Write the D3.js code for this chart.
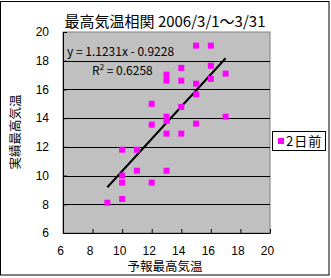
<!DOCTYPE html>
<html>
<head>
<meta charset="utf-8">
<script src="https://cdn.jsdelivr.net/npm/d3@7"></script>
<style>
  body { margin: 0; background: #fff; }
  svg text { font-family: "Noto Sans CJK JP", "DejaVu Sans", sans-serif; fill: #000; }
  svg .tick text { font-family: "Liberation Sans", "DejaVu Sans", sans-serif; }
</style>
</head>
<body>
<svg id="chart" width="331" height="278"></svg>
<script>
// forecast max temp (x) vs actual max temp (y), 2 days ahead
const forecast = [15, 16, 16, 14, 13, 13, 14, 15, 16, 17, 15, 12, 14, 13, 13, 17, 12, 15, 13, 14, 10, 11, 11, 13, 10, 10, 12, 10, 9];
const actual   = [19.05, 19.05, 17.65, 17.5, 17.03, 16.62, 16.61, 16.4, 16.73, 17.1, 15.66, 15.0, 14.78, 14.1, 13.8, 14.1, 13.55, 13.62, 12.92, 12.92, 11.8, 11.8, 10.34, 10.34, 10.0, 9.51, 9.51, 8.37, 8.11];
const xTicks = [6, 8, 10, 12, 14, 16, 18, 20];
const yTicks = [6, 8, 10, 12, 14, 16, 18, 20];
const slope = 1.1231, intercept = -0.9228, r2 = "0.6258";
const trendRange = [9, 17];

const points = forecast.map((f, i) => ({ x: f, y: actual[i] }));

const svg = d3.select("#chart");
const plot = { left: 63, top: 32, right: 270, bottom: 233 };

const x = d3.scaleLinear().domain([6, 20]).range([plot.left, plot.right]);
const y = d3.scaleLinear().domain([6, 20]).range([plot.bottom, plot.top]);

// outer chart border
svg.append("rect")
    .attr("x", 0.5).attr("y", 1.5)
    .attr("width", 328.5).attr("height", 273.5)
    .attr("fill", "#fff").attr("stroke", "#000");

// plot area
svg.append("rect")
    .attr("x", plot.left).attr("y", plot.top)
    .attr("width", plot.right - plot.left).attr("height", plot.bottom - plot.top)
    .attr("fill", "#c0c0c0").attr("stroke", "#808080");

// gridlines
svg.append("g").selectAll("line")
    .data(yTicks.slice(1, -1))
    .enter().append("line")
    .attr("x1", plot.left).attr("x2", plot.right)
    .attr("y1", d => Math.round(y(d)) + 0.5).attr("y2", d => Math.round(y(d)) + 0.5)
    .attr("stroke", "#000");

// axes
const xAxis = svg.append("g")
    .attr("transform", `translate(0,${plot.bottom})`)
    .call(d3.axisBottom(x).tickValues(xTicks).tickSizeInner(-4).tickSizeOuter(0).tickPadding(13));
xAxis.select(".domain").attr("stroke", "#000");
xAxis.selectAll("text").style("font-size", "12px").attr("dx", "-3");

const yAxis = svg.append("g")
    .attr("transform", `translate(${plot.left},0)`)
    .call(d3.axisLeft(y).tickValues(yTicks).tickSizeInner(-4).tickSizeOuter(0).tickPadding(14));
yAxis.select(".domain").attr("stroke", "#000");
yAxis.selectAll("text").style("font-size", "12px");

// trendline
svg.append("line")
    .attr("x1", x(trendRange[0])).attr("y1", y(slope * trendRange[0] + intercept))
    .attr("x2", x(trendRange[1])).attr("y2", y(slope * trendRange[1] + intercept))
    .attr("stroke", "#000").attr("stroke-width", 2);

// points
svg.append("g").selectAll("rect")
    .data(points)
    .enter().append("rect")
    .attr("x", d => x(d.x) - 3).attr("y", d => y(d.y) - 3)
    .attr("width", 6).attr("height", 6)
    .attr("fill", "#ff00ff");

// equation labels
svg.append("text")
    .attr("x", 67).attr("y", 56)
    .style("font-size", "12px")
    .text(`y = ${slope}x - ${Math.abs(intercept)}`);
const rt = svg.append("text")
    .attr("x", 92).attr("y", 75)
    .style("font-size", "12px");
rt.append("tspan").text("R");
rt.append("tspan").attr("dy", -5).style("font-size", "8px").text("2");
rt.append("tspan").attr("dy", 5).text(` = ${r2}`);

// title
svg.append("text")
    .attr("x", 165).attr("y", 27)
    .attr("text-anchor", "middle")
    .style("font-size", "15px")
    .text("最高気温相関 2006/3/1～3/31");

// axis titles
svg.append("text")
    .attr("x", 165).attr("y", 271)
    .attr("text-anchor", "middle")
    .style("font-size", "12.5px")
    .text("予報最高気温");
svg.append("text")
    .attr("transform", "translate(20,132) rotate(-90)")
    .attr("text-anchor", "middle")
    .style("font-size", "12.5px")
    .text("実績最高気温");

// legend
const lg = svg.append("g").attr("transform", "translate(272,131)");
lg.append("rect")
    .attr("x", 0.5).attr("y", 0.5).attr("width", 53).attr("height", 19)
    .attr("fill", "#fff").attr("stroke", "#000");
lg.append("rect")
    .attr("x", 6).attr("y", 7).attr("width", 6).attr("height", 6)
    .attr("fill", "#ff00ff");
lg.append("text")
    .attr("x", 14).attr("y", 15)
    .style("font-size", "13px")
    .style("letter-spacing", "1px")
    .text("2日前");
</script>
</body>
</html>
